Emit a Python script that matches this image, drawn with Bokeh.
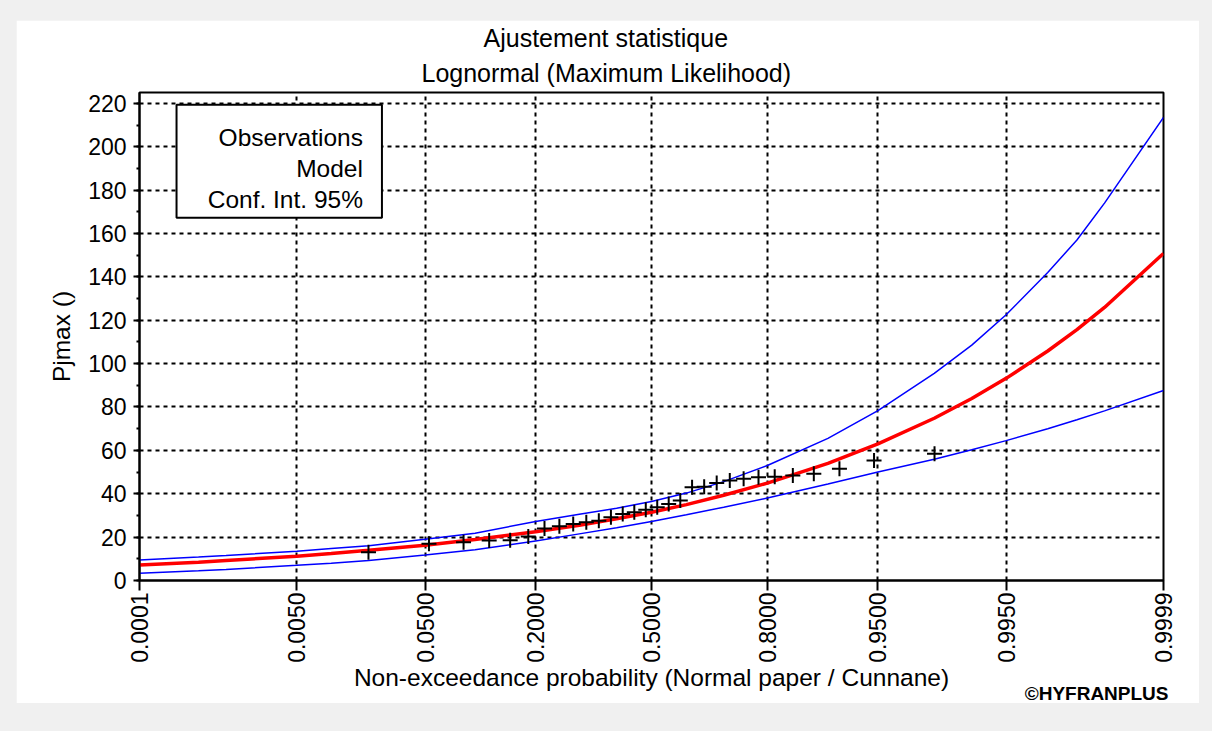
import math
from statistics import NormalDist
from bokeh.plotting import figure
from bokeh.layouts import column
from bokeh.models import (Range1d, FixedTicker, SingleIntervalTicker, Title,
                          BoxAnnotation, Label, ColumnDataSource)
from bokeh.embed import file_html
from bokeh.resources import INLINE

# ---------------- data ----------------
# probability axis ticks
tick_probs = [0.0001, 0.0050, 0.0500, 0.2000, 0.5000, 0.8000, 0.9500, 0.9950, 0.9999]
tick_labels = ["0.0001", "0.0050", "0.0500", "0.2000", "0.5000", "0.8000", "0.9500", "0.9950", "0.9999"]

# observations (Cunnane plotting positions) and sorted values
obs_prob = [0.0199, 0.0530, 0.0861, 0.1192, 0.1523, 0.1854, 0.2185, 0.2517, 0.2848, 0.3179,
            0.3510, 0.3841, 0.4172, 0.4503, 0.4834, 0.5166, 0.5497, 0.5828, 0.6159, 0.6490,
            0.6821, 0.7152, 0.7483, 0.7815, 0.8146, 0.8477, 0.8808, 0.9139, 0.9470, 0.9801]
obs_val = [13.0, 17.0, 17.6, 18.4, 18.6, 20.3, 24.0, 25.0, 26.0, 26.9,
           27.6, 29.2, 30.7, 31.5, 32.6, 33.8, 35.3, 36.9, 43.0, 43.2,
           45.0, 46.1, 46.9, 47.6, 47.8, 48.4, 49.2, 51.5, 55.3, 58.4]

# model curve and 95% confidence interval
curve_prob = [0.0001, 0.0005, 0.001, 0.005, 0.01, 0.02, 0.05, 0.1, 0.2, 0.3, 0.4, 0.5,
              0.6, 0.7, 0.8, 0.9, 0.95, 0.98, 0.99, 0.995, 0.998, 0.999, 0.9995, 0.9999]
model_val = [7.1, 8.4, 9.2, 11.2, 12.4, 13.9, 16.3, 18.9, 22.5, 25.5, 28.5, 31.5,
             35.0, 39.3, 44.9, 54.0, 63.0, 74.8, 83.9, 93.2, 105.8, 115.7, 125.9, 150.8]
upper_val = [9.5, 10.8, 11.5, 13.5, 14.7, 16.0, 19.0, 21.8, 27.2, 30.5, 33.3, 36.4,
             40.3, 45.6, 53.0, 65.5, 78.3, 95.5, 108.5, 122.5, 142.0, 157.0, 174.0, 213.5]
lower_val = [3.4, 4.5, 5.1, 7.0, 8.0, 9.2, 11.8, 14.2, 18.2, 21.5, 24.3, 27.2,
             30.3, 33.8, 38.0, 44.5, 50.0, 55.9, 60.3, 64.5, 70.0, 74.1, 78.2, 87.6]

# ---------------- normal probability paper transform ----------------
nd = NormalDist()
def zq(p):
    return nd.inv_cdf(p)

tick_z = [zq(v) for v in tick_probs]
obs_z = [zq(v) for v in obs_prob]
curve_z = [zq(v) for v in curve_prob]

FONT = "Liberation Sans"

p = figure(width=1183, height=683,
           x_range=Range1d(tick_z[0], tick_z[-1]), y_range=Range1d(0, 225),
           output_backend="svg", toolbar_location=None, title=None,
           min_border_left=123, min_border_right=36, min_border_top=72, min_border_bottom=123,
           background_fill_color="white", border_fill_color="white",
           margin=(20, 13, 28, 16))

# titles (first added is closest to the frame)
for txt, off, so in [("Lognormal (Maximum Likelihood)", 282, 12), ("Ajustement statistique", 344, -3)]:
    t = Title(text=txt, align="left", offset=off, text_font=FONT, text_font_size="25px",
              text_font_style="normal", text_color="black", standoff=so)
    p.add_layout(t, "above")

# axes
p.xaxis.ticker = FixedTicker(ticks=tick_z)
p.xaxis.major_label_overrides = {tz: lab for tz, lab in zip(tick_z, tick_labels)}
p.xaxis.major_label_orientation = math.pi / 2
p.xaxis.axis_label = "Non-exceedance probability (Normal paper / Cunnane)"
p.xaxis.major_tick_out = 10
p.xaxis.major_tick_in = 0
p.xaxis.major_label_standoff = 2
p.xaxis.axis_label_standoff = -2

p.yaxis.ticker = SingleIntervalTicker(interval=20, num_minor_ticks=2)
p.yaxis.axis_label = "Pjmax ()"
p.yaxis.major_tick_out = 6
p.yaxis.major_tick_in = 0
p.yaxis.minor_tick_out = 3
p.yaxis.minor_tick_in = 0
p.yaxis.major_label_standoff = 7
p.yaxis.axis_label_standoff = 10

for ax in (p.xaxis[0], p.yaxis[0]):
    ax.axis_line_color = "black"
    ax.axis_line_width = 2
    ax.major_tick_line_color = "black"
    ax.major_tick_line_width = 2
    ax.minor_tick_line_color = "black"
    ax.minor_tick_line_width = 2
    ax.major_label_text_font = FONT
    ax.major_label_text_font_size = "23px"
    ax.major_label_text_color = "black"
    ax.axis_label_text_font = FONT
    ax.axis_label_text_font_size = "24.5px"
    ax.axis_label_text_font_style = "normal"
    ax.axis_label_text_color = "black"

p.outline_line_color = "black"
p.outline_line_width = 2

p.grid.grid_line_color = "black"
p.grid.grid_line_dash = "4 4"
p.grid.grid_line_width = 2

# curves
src = ColumnDataSource(dict(z=curve_z, model=model_val, up=upper_val, lo=lower_val))
p.line("z", "up", source=src, line_color="#0000ff", line_width=1.5)
p.line("z", "lo", source=src, line_color="#0000ff", line_width=1.5)
p.line("z", "model", source=src, line_color="#ff0000", line_width=3.5)

osrc = ColumnDataSource(dict(z=obs_z, v=obs_val))
p.scatter("z", "v", source=osrc, marker="cross", size=15, line_color="black", line_width=2)

# legend box (text only)
box = BoxAnnotation(left=-3.45, right=-1.958, top=219.4, bottom=167.3,
                    fill_color="white", fill_alpha=1.0, line_color="black",
                    line_alpha=1.0, line_width=2)
p.add_layout(box)
for txt, yy in [("Observations", 204.1), ("Model", 189.9), ("Conf. Int. 95%", 175.6)]:
    p.add_layout(Label(x=-2.096, y=yy, text=txt, text_align="right", text_baseline="middle",
                       text_font=FONT, text_font_size="24.5px", text_color="black"))

# copyright, bottom right
p.add_layout(Title(text="\u00a9HYFRANPLUS", align="right", offset=-5, standoff=-22,
                   vertical_align="top",
                   text_font=FONT, text_font_size="19px", text_font_style="bold",
                   text_color="black"), "below")

root = column(p, width=1212, height=731, styles={"background-color": "#f0f0f0"})
open("out.html", "w").write(file_html(root, INLINE))
